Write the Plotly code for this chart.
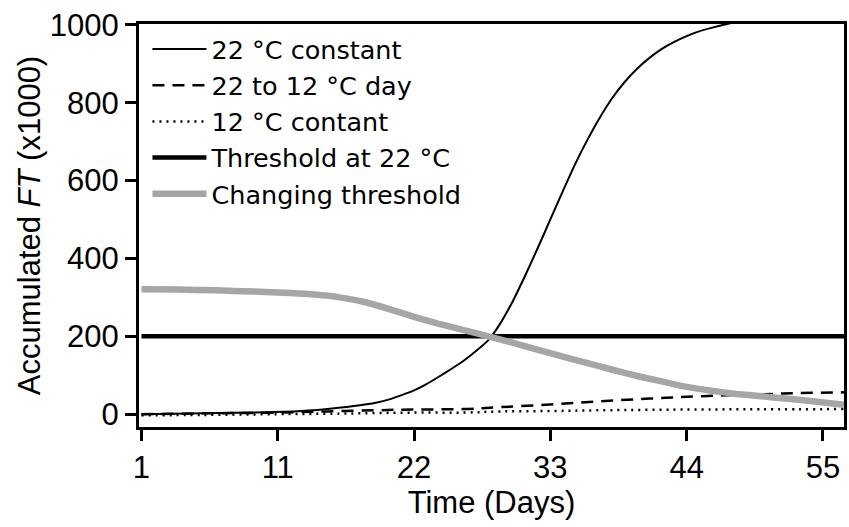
import plotly.graph_objects as go

# Day index (0 = day 1) and series values (x1000)
days_const22 = [0, 5, 10, 13, 15, 17, 19, 20, 21, 22, 23, 24, 25, 26, 27, 28, 29, 30, 31, 32, 33, 34, 35, 36,
                37, 38, 39, 40, 41, 42, 43, 44, 45, 46, 47, 48, 49]
const22 = [0, 2, 5, 8, 13, 20, 30, 38, 49, 61, 77, 96, 116, 137, 162, 190, 235, 292, 358, 428, 500, 572, 642, 705,
           762, 812, 853, 887, 915, 938, 956, 971, 983, 992, 1000, 1008, 1015]

days_shift = [0, 5, 11, 15, 19, 22, 26, 29, 33, 37, 41, 45, 50, 53, 56.7]
shift_22_12 = [0, 2, 4, 7, 10, 12, 13, 18, 25, 33, 40, 46, 51, 54, 56]

days_const12 = [0, 5, 11, 15, 22, 26, 29, 33, 37, 45, 50, 56.7]
const12 = [-3, -2, 0, 1, 4, 4, 7, 8, 10, 12, 12.5, 13]

days_thr = [0, 56.7]
thr22 = [200, 200]

days_chg = [0, 3, 6, 9, 12, 14, 16, 18, 20, 22, 24, 26, 28, 30, 32, 34, 36, 38, 40, 42, 44, 46, 48, 50, 52,
            54, 56.7]
changing = [321, 320, 318, 315, 311, 307, 300, 288, 270, 250, 232, 216, 200, 183, 165, 148, 131, 114, 98, 84,
            70, 60, 52, 46, 40, 34, 24]

tick_pos = [0, 11, 22, 33, 44, 55]
tick_labels = ["1", "11", "22", "33", "44", "55"]
y_ticks = [0, 200, 400, 600, 800, 1000]

names = ["22 °C constant", "22 to 12 °C day", "12 °C contant", "Threshold at 22 °C", "Changing threshold"]

fig = go.Figure()
fig.add_trace(go.Scatter(x=days_const22, y=const22, mode="lines", name=names[0],
                         line=dict(color="black", width=2, shape="spline", smoothing=0.5)))
fig.add_trace(go.Scatter(x=days_shift, y=shift_22_12, mode="lines", name=names[1],
                         line=dict(color="black", width=2.5, dash="12px,8px", shape="spline")))
fig.add_trace(go.Scatter(x=days_const12, y=const12, mode="lines", name=names[2],
                         line=dict(color="black", width=2.5, dash="2px,5px", shape="spline")))
fig.add_trace(go.Scatter(x=days_thr, y=thr22, mode="lines", name=names[3],
                         line=dict(color="black", width=4.5)))
fig.add_trace(go.Scatter(x=days_chg, y=changing, mode="lines", name=names[4],
                         line=dict(color="#a6a6a6", width=6.5, shape="spline", smoothing=0.5)))

axis_font = dict(family="Liberation Sans Narrow, Arial Narrow, Liberation Sans, Arial", size=31, color="black")

fig.update_layout(
    width=849, height=527,
    margin=dict(l=139, r=2, t=24, b=100),
    paper_bgcolor="white", plot_bgcolor="white",
    showlegend=True,
    legend=dict(x=0.012, y=0.995, xanchor="left", yanchor="top",
                font=dict(family="DejaVu Sans, sans-serif", size=25.5, color="black"),
                bgcolor="rgba(0,0,0,0)", borderwidth=0, tracegroupgap=0, itemwidth=54),
    xaxis=dict(range=[-0.2, 56.7], tickmode="array", tickvals=tick_pos, ticktext=tick_labels,
               ticks="outside", ticklen=11, tickwidth=3, tickcolor="black",
               showline=True, linewidth=3, linecolor="black", mirror=True,
               showgrid=False, zeroline=False, tickfont=axis_font,
               title=dict(text="Time (Days)", font=axis_font, standoff=6)),
    yaxis=dict(range=[-33, 1002], tickmode="array", tickvals=y_ticks,
               ticks="outside", ticklen=11, tickwidth=3, tickcolor="black",
               showline=True, linewidth=3, linecolor="black", mirror=True,
               showgrid=False, zeroline=False, tickfont=axis_font,
               title=dict(text="Accumulated <i>FT</i> (x1000)", font=axis_font, standoff=0)),
)

fig.write_html("out.html")
